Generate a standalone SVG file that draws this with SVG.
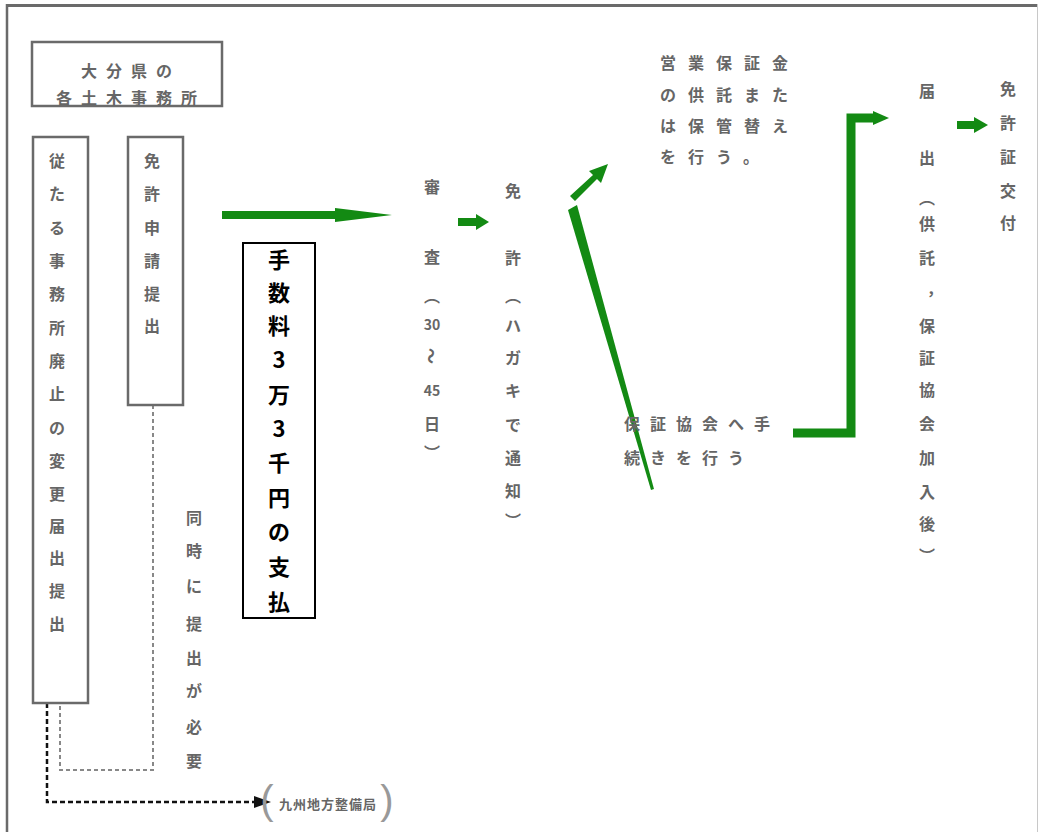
<svg xmlns="http://www.w3.org/2000/svg" width="1041" height="832" viewBox="0 0 1041 832">
<style>
.g{font-family:"Noto Sans CJK JP","Noto Sans CJK SC",sans-serif;fill:#666;font-size:16px;font-weight:700;text-anchor:middle;dominant-baseline:central}
.gl{font-family:"Noto Sans CJK JP","Noto Sans CJK SC",sans-serif;fill:#666;font-size:16px;font-weight:700;dominant-baseline:central}
.br{font-family:"Liberation Sans",sans-serif;fill:#999;font-size:40px;text-anchor:middle;dominant-baseline:central}
.b{font-family:"Noto Sans CJK JP","Noto Sans CJK SC",sans-serif;fill:#000;font-size:22px;font-weight:bold;text-anchor:middle;dominant-baseline:central}
.box{fill:#fff;stroke:#6a6a6a;stroke-width:2.5}
.grn{fill:#138a13}
.gs{fill:none;stroke:#138a13;stroke-width:9;stroke-linejoin:miter}
</style>
<rect width="1041" height="832" fill="#fff"/>
<g id="frame">
<line x1="6" y1="5.5" x2="1038" y2="5.5" stroke="#6a6a6a" stroke-width="3"/>
<line x1="7" y1="4" x2="7" y2="832" stroke="#6a6a6a" stroke-width="2.5"/>
<line x1="1037.5" y1="4" x2="1037.5" y2="832" stroke="#c8c8c8" stroke-width="1"/>
</g>
<g id="connectors">
<path d="M153,405 V770 H60 V703" fill="none" stroke="#888" stroke-width="2" stroke-dasharray="4 3"/>
<path d="M47,703 V802 H256" fill="none" stroke="#111" stroke-width="2.5" stroke-dasharray="5 3"/>
<polygon points="254,796 271,802 254,808" fill="#111"/>
<polygon class="grn" points="222,211 335,211 335,208 392,215 335,222 335,219 222,219"/>
<polygon class="grn" points="458,218 476,218 476,214 489,222 476,230 476,226 458,226"/>
<polygon class="grn" points="570,196 593,175 589,171 608,164 601,183 597,179 575,201"/>
<polygon class="grn" points="568,210 577,205 654,489 651,490"/>
<polyline class="gs" points="793,433 851,433 851,118 875,118"/>
<polygon class="grn" points="873,111 889,118 873,125"/>
<polygon class="grn" points="957,121 974,121 974,117 988,125 974,133 974,129 957,129"/>
</g>
<g id="node-oita">
<rect class="box" x="32" y="42" width="190" height="64"/>
<text class="g" x="131" y="70" letter-spacing="9">大分県の</text>
<text class="g" x="131" y="97" letter-spacing="9">各土木事務所</text>
</g>
<g id="node-henko">
<rect class="box" x="33" y="137" width="55" height="566"/>
<text class="g"><tspan x="57" y="160">従</tspan><tspan x="57" y="193">た</tspan><tspan x="57" y="227">る</tspan><tspan x="57" y="260">事</tspan><tspan x="57" y="293">務</tspan><tspan x="57" y="327">所</tspan><tspan x="57" y="360">廃</tspan><tspan x="57" y="393">止</tspan><tspan x="57" y="427">の</tspan><tspan x="57" y="460">変</tspan><tspan x="57" y="493">更</tspan><tspan x="57" y="525">届</tspan><tspan x="57" y="557">出</tspan><tspan x="57" y="590">提</tspan><tspan x="57" y="623">出</tspan></text>
</g>
<g id="node-shinsei">
<rect class="box" x="128" y="137" width="55" height="268"/>
<text class="g"><tspan x="152" y="160">免</tspan><tspan x="152" y="193">許</tspan><tspan x="152" y="227">申</tspan><tspan x="152" y="260">請</tspan><tspan x="152" y="293">提</tspan><tspan x="152" y="325">出</tspan></text>
</g>
<g id="node-doji">
<text class="g"><tspan x="194" y="517">同</tspan><tspan x="194" y="550">時</tspan><tspan x="194" y="585">に</tspan><tspan x="194" y="623">提</tspan><tspan x="194" y="657">出</tspan><tspan x="194" y="690">が</tspan><tspan x="194" y="726">必</tspan><tspan x="194" y="760">要</tspan></text>
</g>
<g id="node-kyushu">
<text class="br" x="267" y="800">(</text>
<text class="gl" x="279" y="803" style="font-size:13px;letter-spacing:1px">九州地方整備局</text>
<text class="br" x="387" y="800">)</text>
</g>
<g id="node-tesuryo">
<rect x="243" y="243" width="72" height="375" fill="#fff" stroke="#000" stroke-width="2"/>
<text class="b"><tspan x="279" y="258">手</tspan><tspan x="279" y="291">数</tspan><tspan x="279" y="324">料</tspan><tspan x="279" y="358">3</tspan><tspan x="279" y="393">万</tspan><tspan x="279" y="427">3</tspan><tspan x="279" y="461">千</tspan><tspan x="279" y="496">円</tspan><tspan x="279" y="530">の</tspan><tspan x="279" y="565">支</tspan><tspan x="279" y="600">払</tspan></text>
</g>
<g id="node-shinsa">
<text class="g"><tspan x="432" y="186">審</tspan><tspan x="432" y="256">査</tspan><tspan x="432" y="295">︵</tspan><tspan x="432" y="324" style="font-size:14px">30</tspan><tspan x="432" y="390" style="font-size:14px">45</tspan><tspan x="432" y="423">日</tspan><tspan x="432" y="452">︶</tspan></text>
<text class="g" x="432" y="356" transform="rotate(90 432 356)">～</text>
</g>
<g id="node-menkyo">
<text class="g"><tspan x="513" y="190">免</tspan><tspan x="513" y="257">許</tspan><tspan x="513" y="295">︵</tspan><tspan x="513" y="325">ハ</tspan><tspan x="513" y="357">ガ</tspan><tspan x="513" y="390">キ</tspan><tspan x="513" y="424">で</tspan><tspan x="513" y="457">通</tspan><tspan x="513" y="490">知</tspan><tspan x="513" y="520">︶</tspan></text>
</g>
<g id="node-kyotaku">
<text class="gl" letter-spacing="12"><tspan x="660" y="62">営業保証金</tspan><tspan x="660" y="94">の供託また</tspan><tspan x="660" y="125">は保管替え</tspan><tspan x="660" y="156">を行う。</tspan></text>
</g>
<g id="node-kyokai">
<text class="gl" letter-spacing="10"><tspan x="624" y="423">保証協会へ手</tspan><tspan x="624" y="457">続きを行う</tspan></text>
</g>
<g id="node-todokede">
<text class="g"><tspan x="927" y="90">届</tspan><tspan x="927" y="157">出</tspan><tspan x="927" y="197">︵</tspan><tspan x="927" y="223">供</tspan><tspan x="927" y="257">託</tspan><tspan x="927" y="298">︐</tspan><tspan x="927" y="325">保</tspan><tspan x="927" y="357">証</tspan><tspan x="927" y="389">協</tspan><tspan x="927" y="423">会</tspan><tspan x="927" y="457">加</tspan><tspan x="927" y="491">入</tspan><tspan x="927" y="523">後</tspan><tspan x="927" y="555">︶</tspan></text>
</g>
<g id="node-kofu">
<text class="g"><tspan x="1008" y="88">免</tspan><tspan x="1008" y="122">許</tspan><tspan x="1008" y="156">証</tspan><tspan x="1008" y="190">交</tspan><tspan x="1008" y="222">付</tspan></text>
</g>
</svg>
